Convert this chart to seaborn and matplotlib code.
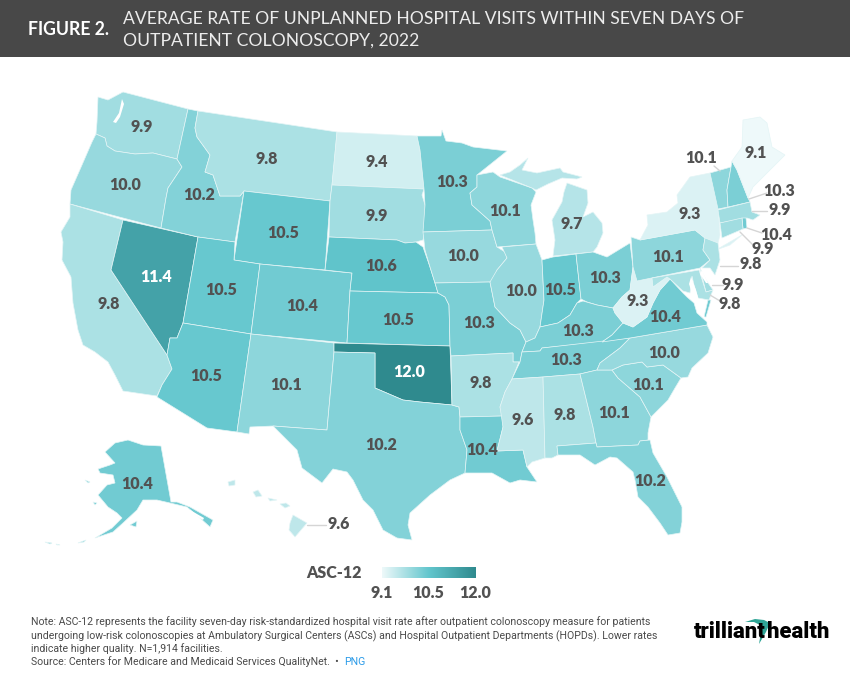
#%% import libraries
import seaborn as sns
import matplotlib.pyplot as plt
from matplotlib.colors import Normalize
from matplotlib.patches import Polygon, Rectangle
import numpy as np

#%% data
states = ['WA', 'OR', 'CA', 'NV', 'ID', 'MT', 'WY', 'UT', 'AZ', 'CO', 'NM', 'ND', 'SD', 'NE',
          'KS', 'OK', 'TX', 'MN', 'IA', 'MO', 'AR', 'LA', 'WI', 'IL', 'MI', 'IN', 'OH', 'KY',
          'TN', 'MS', 'AL', 'GA', 'FL', 'SC', 'NC', 'VA', 'WV', 'PA', 'NY', 'VT', 'NH', 'ME',
          'MA', 'RI', 'CT', 'NJ', 'DE', 'MD', 'AK', 'HI']
rates = [9.9, 10.0, 9.8, 11.4, 10.2, 9.8, 10.5, 10.5, 10.5, 10.4, 10.1, 9.4, 9.9, 10.6,
         10.5, 12.0, 10.2, 10.3, 10.0, 10.3, 9.8, 10.4, 10.1, 10.0, 9.7, 10.5, 10.3, 10.3,
         10.3, 9.6, 9.8, 10.1, 10.2, 10.1, 10.0, 10.4, 9.3, 10.1, 9.3, 10.1, 10.3, 9.1,
         9.9, 10.4, 9.9, 9.8, 9.9, 9.8, 10.4, 9.6]
legend_ticks = [9.1, 10.5, 12.0]

title_lines = ['AVERAGE RATE OF UNPLANNED HOSPITAL VISITS WITHIN SEVEN DAYS OF',
               'OUTPATIENT COLONOSCOPY, 2022']
note_lines = ['Note: ASC-12 represents the facility seven-day risk-standardized hospital visit rate after outpatient colonoscopy measure for patients',
              'undergoing low-risk colonoscopies at Ambulatory Surgical Centers (ASCs) and Hospital Outpatient Departments (HOPDs). Lower rates',
              'indicate higher quality. N=1,914 facilities.']

#%% base map outlines, traced in image pixels
shapes = {
    'WA': [[(98,97),(108,100),(123,92),(188,109),(177,159),(153,153),(135,154),(115,151),(107,146),(105,138),(96,134),(97,122)]],
    'OR': [[(96,134),(105,138),(107,146),(115,151),(135,154),(153,153),(177,159),(182,167),(168,188),(166,198),(161,228),(70,204),(71,190),(82,165),(92,142)]],
    'CA': [[(70,204),(123,220),(111,270),(167,355),(172,369),(162,385),(157,396),(123,391),(115,375),(108,362),(95,352),(83,345),(78,330),(73,303),(71,277),(62,260),(63,242),(61,232),(70,217)]],
    'NV': [[(123,220),(198,237),(183,323),(177,338),(170,338),(167,355),(111,270)]],
    'ID': [[(188,109),(198,111),(195,128),(197,137),(210,155),(205,172),(213,175),(220,196),(240,196),(244,191),(235,242),(198,237),(161,228),(166,198),(168,188),(182,167),(177,159)]],
    'MT': [[(198,111),(337,132),(332,185),(330,201),(244,191),(240,196),(220,196),(213,175),(205,172),(210,155),(197,137),(195,128)]],
    'WY': [[(244,191),(330,201),(325,270),(260,264),(234,260)]],
    'UT': [[(198,237),(235,242),(234,260),(260,264),(251,334),(183,323)]],
    'AZ': [[(183,323),(251,334),(237,432),(207,428),(157,397),(162,385),(172,369),(167,355),(170,338),(177,338)]],
    'CO': [[(260,264),(352,273),(350,291),(347,343),(251,334)]],
    'NM': [[(251,334),(334,343),(334,352),(327,430),(273,426),(250,427),(249,434),(237,432)]],
    'ND': [[(337,132),(417,136),(420,150),(424,189),(332,185)]],
    'SD': [[(332,185),(424,189),(422,195),(425,205),(425,230),(423,240),(416,242),(405,243),(397,240),(329,237),(330,201)]],
    'NE': [[(329,237),(397,240),(405,243),(416,242),(423,247),(430,267),(435,283),(438,293),(350,291),(352,273),(325,270)]],
    'KS': [[(350,291),(438,293),(445,297),(449,305),(450,346),(347,343)]],
    'OK': [[(334,343),(450,346),(452,405),(420,402),(403,400),(375,388),(375,353),(334,352)]],
    'TX': [[(334,352),(375,353),(375,388),(403,400),(420,402),(452,405),(459,407),(460,417),(460,430),(467,450),(465,473),(450,480),(430,495),(410,513),(408,525),(412,540),(397,538),(383,530),(373,510),(363,500),(353,480),(347,472),(333,469),(322,483),(302,468),(297,450),(273,426),(327,430)]],
    'MN': [[(417,136),(441,136),(442,130),(446,141),(462,143),(473,147),(490,149),(507,151),(477,175),(477,187),(470,193),(472,205),(490,221),(492,230),(423,232),(425,205),(424,189),(420,150)]],
    'IA': [[(423,232),(492,230),(497,247),(505,252),(507,258),(497,270),(495,280),(490,282),(435,283),(430,267),(425,250)]],
    'MO': [[(435,283),(490,282),(495,307),(510,323),(520,330),(526,342),(522,352),(520,362),(513,362),(513,353),(451,356),(450,346),(449,305),(445,297),(438,293)]],
    'AR': [[(451,356),(513,353),(513,362),(519,362),(512,379),(505,392),(500,407),(503,416),(460,417),(459,407),(452,405)]],
    'LA': [[(460,417),(503,416),(503,427),(497,451),(523,450),(527,467),(537,482),(520,480),(510,483),(492,473),(465,473),(467,450),(460,430)]],
    'WI': [[(477,175),(493,172),(500,177),(532,188),(536,192),(531,205),(533,220),(535,233),(536,244),(497,247),(492,230),(490,221),(472,205),(470,193),(477,187)]],
    'IL': [[(502,247),(536,244),(542,260),(544,300),(540,327),(535,338),(526,342),(520,330),(510,323),(495,307),(490,282),(497,270),(507,258)]],
    'MI': [[(500,175),(510,172),(520,165),(528,158),(522,170),(537,173),(560,168),(563,172),(582,177),(577,179),(562,178),(548,184),(536,190),(532,188)],
           [(567,183),(587,190),(588,203),(583,217),(593,212),(602,223),(603,233),(597,247),(593,252),(553,256),(555,240),(552,220),(562,202),(564,192)]],
    'IN': [[(542,260),(553,257),(576,254),(581,299),(577,303),(570,315),(558,323),(540,327),(544,300)]],
    'OH': [[(576,254),(593,252),(607,257),(630,243),(633,267),(630,290),(622,297),(613,308),(597,305),(587,302),(581,299)]],
    'KY': [[(526,342),(535,338),(540,327),(558,323),(570,315),(577,303),(583,301),(597,305),(613,308),(615,313),(623,323),(612,335),(602,342),(542,348),(540,351),(522,352)]],
    'TN': [[(522,352),(540,351),(542,348),(630,338),(620,348),(600,363),(597,370),(580,374),(543,377),(512,379),(520,362)]],
    'MS': [[(512,379),(543,377),(545,458),(532,462),(527,467),(523,450),(497,451),(503,427),(500,407),(505,392)]],
    'AL': [[(543,377),(580,374),(593,427),(596,443),(557,446),(558,455),(552,458),(545,458)]],
    'GA': [[(580,374),(597,370),(612,370),(618,378),(640,397),(651,417),(648,433),(648,440),(640,441),(638,445),(597,447),(596,443),(593,427)]],
    'FL': [[(557,446),(596,443),(597,447),(638,445),(640,441),(650,440),(653,453),(667,477),(682,507),(682,522),(680,533),(668,535),(660,523),(648,507),(638,497),(635,480),(633,472),(617,458),(610,457),(595,465),(580,455),(558,455)]],
    'SC': [[(612,370),(623,365),(642,362),(647,367),(663,365),(681,378),(675,388),(668,400),(653,415),(651,417),(640,397),(618,378)]],
    'NC': [[(630,338),(707,325),(713,337),(708,353),(692,368),(688,377),(681,378),(663,365),(647,367),(642,362),(623,365),(612,370),(597,370),(600,363),(620,348)]],
    'VA': [[(602,342),(612,335),(623,323),(633,327),(647,317),(653,303),(660,290),(670,279),(683,293),(687,297),(694,303),(697,313),(707,322),(707,325),(630,338)],
           [(708,300),(711,300),(706,317),(704,317)]],
    'WV': [[(633,267),(637,281),(652,278),(653,287),(667,277),(670,279),(660,290),(653,303),(647,317),(633,327),(623,323),(615,313),(613,308),(622,297),(630,290)]],
    'PA': [[(631,237),(640,240),(695,230),(705,238),(703,250),(710,260),(700,268),(637,281),(633,267)]],
    'NY': [[(640,240),(648,225),(647,215),(667,212),(678,203),(677,195),(690,177),(710,173),(718,207),(720,235),(718,243),(705,238),(695,230)],
           [(716,250),(742,235),(730,245)]],
    'VT': [[(710,173),(731,167),(727,190),(728,207),(718,209)]],
    'NH': [[(731,167),(732,161),(737,170),(748,198),(750,202),(728,207),(727,190)]],
    'ME': [[(732,161),(742,147),(743,120),(760,117),(767,123),(772,147),(785,155),(767,173),(753,187),(748,198),(737,170)]],
    'MA': [[(718,210),(750,202),(752,212),(760,215),(753,220),(747,218),(720,223)]],
    'RI': [[(742,218),(746,218),(747,228),(743,229)]],
    'CT': [[(720,223),(742,218),(743,229),(722,238)]],
    'NJ': [[(705,238),(718,243),(720,260),(715,275),(710,268),(702,268),(710,260),(703,250)]],
    'DE': [[(700,268),(706,280),(713,290),(706,292)]],
    'MD': [[(652,278),(699,270),(706,292),(713,290),(709,300),(698,298),(694,285),(692,276),(690,293),(683,291),(670,279),(667,277),(653,287)]],
    'AK': [[(105,452),(115,443),(128,440),(143,445),(161,446),(171,502),(177,502),(190,507),(213,520),(210,527),(200,518),(187,507),(170,503),(157,500),(143,500),(137,510),(123,523),(113,532),(95,538),(112,528),(122,518),(117,513),(108,507),(98,495),(107,485),(115,483),(113,475),(100,473),(98,469),(110,465),(115,463)],
           [(130,525),(137,521),(136,527)], [(85,480),(90,482),(88,483)], [(93,502),(97,503),(95,505)],
           [(78,543),(86,540),(84,542)], [(45,542),(52,543),(50,544)], [(56,544),(60,545),(57,545)]],
    'HI': [[(290,523),(293,515),(307,523),(295,537),(289,530)], [(280,504),(286,503),(290,506),(285,508)],
           [(253,492),(258,490),(262,496),(256,497)], [(228,482),(235,480),(235,485),(229,486)], [(268,498),(277,500),(270,501)]],
}

# inlets cut back out of the land
water = [[(113,122),(119,113),(122,99),(124,104),(120,117),(116,123)],
         [(691,277),(696,290),(702,312),(706,320),(700,314),(693,296),(689,284)],
         [(702,270),(708,283),(706,283),(700,274)],
         [(190,510),(204,518),(203,520),(189,512)]]

# label anchors, and the leader line of labels set outside their state
label_pos = {
    'WA': (142,127), 'OR': (125,185), 'CA': (109,304), 'NV': (156,277), 'ID': (199,195), 'MT': (267,159),
    'WY': (283,233), 'UT': (221,290), 'AZ': (206,376), 'CO': (302,306), 'NM': (286,385), 'ND': (377,162),
    'SD': (377,216), 'NE': (381,266), 'KS': (398,320), 'OK': (409,372), 'TX': (381,445), 'MN': (452,182),
    'IA': (463,256), 'MO': (479,323), 'AR': (481,383), 'LA': (482,450), 'WI': (505,211), 'IL': (521,291),
    'MI': (572,224), 'IN': (560,290), 'OH': (605,278), 'KY': (578,331), 'TN': (566,360), 'MS': (523,420),
    'AL': (565,415), 'GA': (614,413), 'FL': (650,481), 'SC': (648,385), 'NC': (664,353), 'VA': (665,317),
    'WV': (638,301), 'PA': (668,257), 'NY': (690,214), 'VT': (701,158), 'NH': (779,191), 'ME': (756,153),
    'MA': (780,210), 'RI': (776,235), 'CT': (763,249), 'NJ': (751,264), 'DE': (733,285), 'MD': (730,304),
    'AK': (137,484), 'HI': (339,524),
}
leaders = {
    'VT': [(714,166),(720,171)], 'NH': [(749,199),(767,193)], 'MA': [(752,211),(767,211)],
    'RI': [(747,228),(762,233)], 'CT': [(740,232),(753,245)], 'NJ': [(720,266),(738,266)],
    'DE': [(712,285),(723,285)], 'MD': [(710,295),(720,301)], 'HI': [(307,525),(326,525)],
}

#%% figure
sns.set_theme(style='white')
plt.rcParams['font.family'] = ['Lato', 'DejaVu Sans']

cmap = sns.blend_palette(['#eef9fa', '#62c6cd', '#2f8a8e'], as_cmap=True)
norm = Normalize(vmin=min(legend_ticks), vmax=max(legend_ticks))

fig = plt.figure(figsize=(8.5, 6.86), dpi=100)
ax = fig.add_axes([0, 0, 1, 1])

# header
ax.add_patch(Rectangle((0, 0), 850, 57, facecolor='#484848', edgecolor='none'))
ax.text(28, 29.5, 'FIGURE 2.', color='white', fontsize=12.7, fontweight='bold', va='center')
for y, line in zip([19, 41], title_lines):
    ax.text(123, y, line, color='#ececec', fontsize=12.6, fontweight='normal', va='center')

# states
for state, rate in zip(states, rates):
    for part in shapes[state]:
        ax.add_patch(Polygon(part, closed=True, facecolor=cmap(norm(rate)), edgecolor='#e4f5f6', linewidth=0.5))
for part in water:
    ax.add_patch(Polygon(part, closed=True, facecolor='white', edgecolor='none'))

# value labels
for state, rate in zip(states, rates):
    x, y = label_pos[state]
    if state in leaders:
        (x0, y0), (x1, y1) = leaders[state]
        ax.plot([x0, x1], [y0, y1], color='#d5d5d5', linewidth=1)
    color = 'white' if rate >= 11 else '#525252'
    ax.text(x, y, f'{rate:.1f}', color=color, fontsize=11.5, fontweight='heavy', ha='center', va='center')

# legend
gradient = np.linspace(0, 1, 256).reshape(1, -1)
ax.imshow(gradient, cmap=cmap, extent=(382, 476, 578, 567), aspect='auto')
ax.text(334, 573, 'ASC-12', color='#525252', fontsize=11.5, fontweight='heavy', ha='center', va='center')
for x, tick in zip([382, 428, 475], legend_ticks):
    ax.text(x, 593, f'{tick:.1f}', color='#525252', fontsize=11.5, fontweight='heavy', ha='center', va='center')

# footer
for y, line in zip([622, 636, 649], note_lines):
    ax.text(31, y, line, color='#4a4a4a', fontsize=7.56, family='Roboto', va='center')
source = ax.text(31, 662, 'Source: Centers for Medicare and Medicaid Services QualityNet.  \u2022  ',
                 color='#4a4a4a', fontsize=7.56, family='Roboto', va='center')
ax.annotate('PNG', xycoords=source, xy=(1, 0.5), va='center', color='#2b9be8', fontsize=7.56, family='Roboto')

# logo
ax.text(694, 638, 'trilliant', color='black', fontsize=15.8, fontweight='black', family='Roboto', va='baseline')
ax.text(767, 638, 'health', color='black', fontsize=15.8, fontweight='black', family='Roboto', va='baseline')
ax.add_patch(Polygon([(745,622),(755,619),(764,620),(770,623),(766,632),(759,644),(761,632),(760,625),(754,622)],
                     closed=True, facecolor='#2fa596', edgecolor='none'))

ax.set_xlim(0, 850)
ax.set_ylim(686, 0)
ax.axis('off')

fig.savefig('out.png', dpi=100)
